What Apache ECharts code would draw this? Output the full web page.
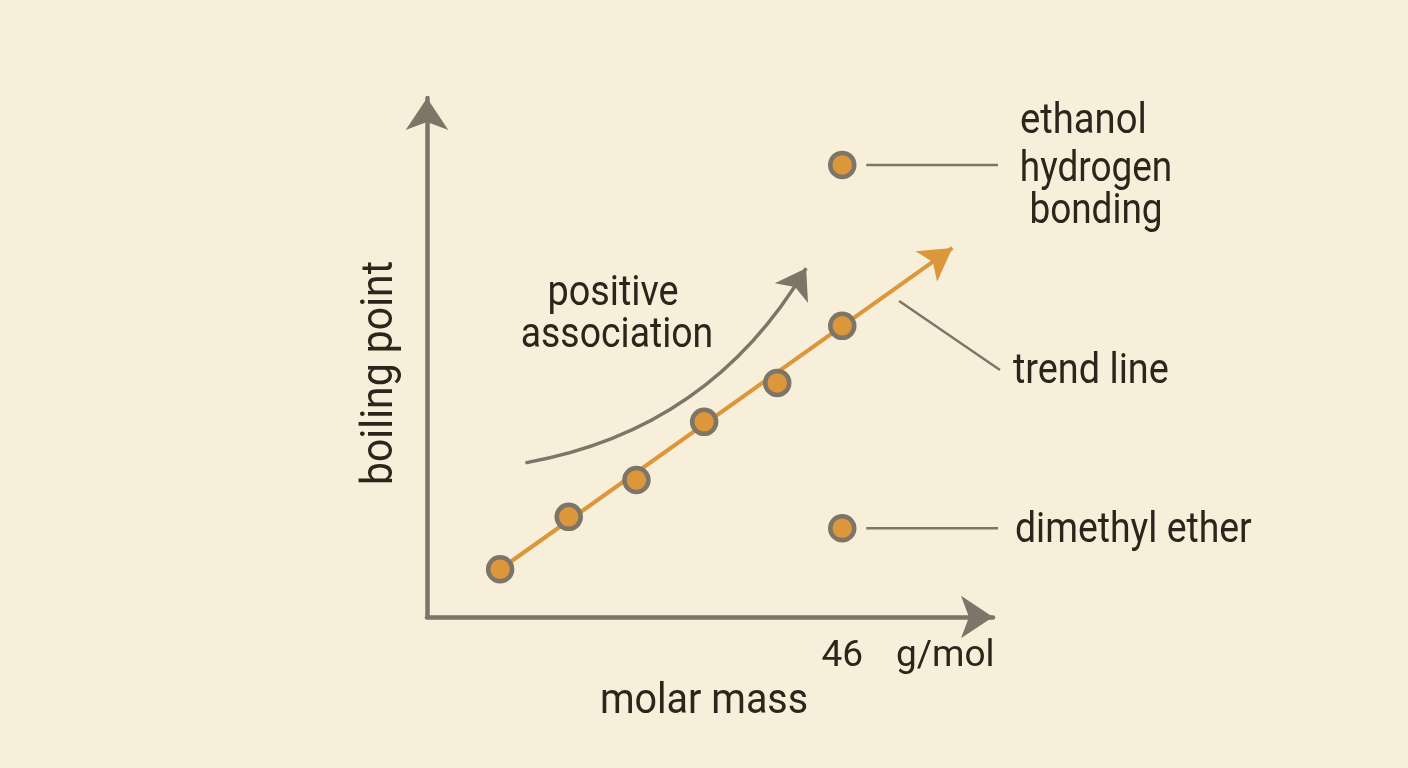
<!DOCTYPE html>
<html>
<head>
<meta charset="utf-8">
<script src="https://cdn.jsdelivr.net/npm/echarts@6/dist/echarts.min.js"></script>
<style>
  html, body { margin: 0; padding: 0; background: #f8efda; }
  #chart { width: 1408px; height: 768px; }
</style>
</head>
<body>
<div id="chart"></div>
<script>
// Molar mass (g/mol) and boiling point (arbitrary scale)
const seriesMass = [8.1, 15.7, 23.2, 30.7, 38.8, 46];
const seriesBoil = [9.2, 19.3, 26.4, 37.6, 45.1, 56.1];
const ethanolPoint = [46, 87.1];
const etherPoint = [46, 17.1];
const trendStart = [8.1, 9.2];
const trendEnd = [58.2, 71.1];
const curveStart = [10.9, 29.7];
const curveEnd = [42.0, 67.2];
const xTicks = [46];

const ink = '#2e241c';
const axisGrey = '#7e7569';
const orange = '#db973a';
const font = 'Roboto';

const chartDom = document.getElementById('chart');
const myChart = echarts.init(chartDom);

// Scatter points built from the arrays above
const points = seriesMass.map((m, i) => [m, seriesBoil[i]]);

// helper for a text label, squeezed a little to look condensed
function label(text, x, y, size, sx, align, rot) {
    return {
        type: 'text', x: x, y: y, scaleX: sx, rotation: rot || 0, z: 10,
        style: { text: text, x: 0, y: 0, fill: ink, font: size + 'px ' + font, align: align, verticalAlign: 'middle' }
    };
}

const option = {
    backgroundColor: '#f8efda',
    animation: false,
    grid: { left: 427, right: 415, top: 98, bottom: 151 },
    xAxis: {
        type: 'value', min: 0, max: 62.7,
        splitLine: { show: false },
        axisTick: { show: false },
        axisLine: { lineStyle: { color: axisGrey, width: 4.5 }, symbol: ['none', 'arrow'], symbolSize: [32, 32], symbolOffset: [0, 0] },
        axisLabel: { customValues: xTicks, margin: 21, color: ink, fontSize: 37, fontFamily: font }
    },
    yAxis: {
        type: 'value', min: 0, max: 100,
        splitLine: { show: false },
        axisTick: { show: false },
        axisLabel: { show: false },
        axisLine: { lineStyle: { color: axisGrey, width: 4.5 }, symbol: ['none', 'arrow'], symbolSize: [32, 32], symbolOffset: [0, 0] }
    },
    series: [
        {
            // trend line with arrow head
            type: 'line', data: [], silent: true,
            markLine: {
                silent: true, symbol: ['none', 'arrow'], symbolSize: [28, 32],
                label: { show: false },
                lineStyle: { color: orange, width: 4, type: 'solid' },
                data: [[{ coord: trendStart }, { coord: trendEnd }]]
            },
            z: 2
        },
        {
            // curved "positive association" arrow
            type: 'lines', coordinateSystem: 'cartesian2d', silent: true,
            symbol: ['none', 'arrow'], symbolSize: 29,
            lineStyle: { color: axisGrey, width: 3.5, opacity: 1, curveness: -0.23 },
            data: [{ coords: [curveStart, curveEnd] }]
        },
        {
            type: 'scatter',
            data: points.concat([ethanolPoint, etherPoint]),
            symbolSize: 24,
            itemStyle: { color: orange, borderColor: axisGrey, borderWidth: 4.5, opacity: 1 },
            z: 5
        }
    ],
    graphic: [
        label('ethanol', 1020, 122, 42, 0.91, 'left'),
        label('hydrogen', 1096, 170, 42, 0.88, 'center'),
        label('bonding', 1096, 212, 42, 0.88, 'center'),
        label('trend line', 1013, 372, 42, 0.9, 'left'),
        label('dimethyl ether', 1015, 531, 42, 0.89, 'left'),
        label('positive', 613, 294, 42, 0.9, 'center'),
        label('association', 617, 336, 42, 0.89, 'center'),
        label('g/mol', 896, 657, 37, 1.0, 'left'),
        label('molar mass', 704, 702, 42, 0.94, 'center'),
        label('boiling point', 381, 373, 44, 0.93, 'center', Math.PI / 2)
    ]
};

myChart.setOption(option);

// leader lines from the marked points out to their labels
const pEth = myChart.convertToPixel({ gridIndex: 0 }, ethanolPoint);
const pEther = myChart.convertToPixel({ gridIndex: 0 }, etherPoint);
const pTrend = myChart.convertToPixel({ gridIndex: 0 }, [52.3, 60.9]);
const leader = (x1, y1, x2, y2) => ({
    type: 'line', z: 3, silent: true,
    shape: { x1: x1, y1: y1, x2: x2, y2: y2 },
    style: { stroke: axisGrey, lineWidth: 2.5 }
});
myChart.setOption({
    graphic: option.graphic.concat([
        leader(pEth[0] + 24, pEth[1], 998, pEth[1]),
        leader(pEther[0] + 24, pEther[1], 998, pEther[1]),
        leader(pTrend[0], pTrend[1], 1000, 370)
    ])
});
</script>
</body>
</html>
